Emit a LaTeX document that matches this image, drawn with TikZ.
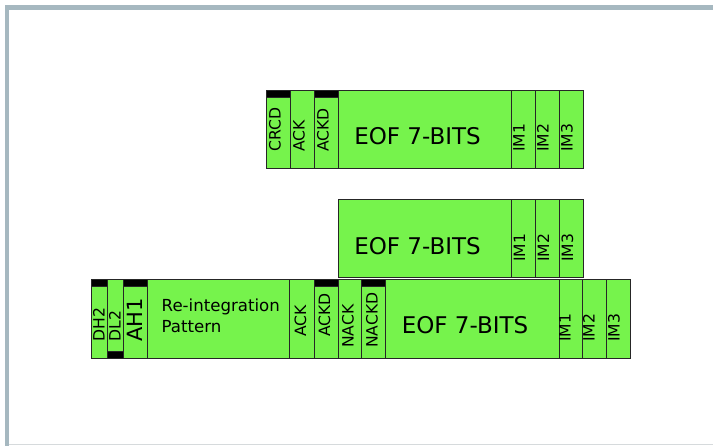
\documentclass[tikz,border=0pt]{standalone}
\usepackage{fontspec}
\setmainfont{DejaVu Sans}
\definecolor{fgreen}{RGB}{118,243,76}
\definecolor{framec}{RGB}{166,184,192}
\definecolor{framel}{RGB}{214,218,220}
\tikzset{
  cell/.style={draw=black!85, line width=0.8pt, fill=fgreen, inner sep=0pt, anchor=north west},
  blackbar/.style={draw=black!85, fill=black, line width=0.8pt, inner sep=0pt, anchor=north west, minimum height=7pt},
  vlab/.style={rotate=90, anchor=west, inner sep=0pt, font=\fontsize{15.6}{15.6}\selectfont, text height=11.3pt, text depth=0pt},
  biglab/.style={vlab, font=\fontsize{21}{21}\selectfont, text height=15.2pt},
  eoftxt/.style={anchor=base, inner sep=0pt, font=\fontsize{23}{23}\selectfont},
  ritxt/.style={anchor=base west, inner sep=0pt, font=\fontsize{16.6}{16.6}\selectfont}
}
\begin{document}
\begin{tikzpicture}[x=1pt,y=-1pt]
\useasboundingbox (0,0) rectangle (713,446);
% frame
\fill[framec] (5,5) rectangle (713,10);
\fill[framec] (5,5) rectangle (9,446);
\draw[framel, line width=1pt] (9,445) -- (713,445);

% ---------- top row ----------
\node[cell, minimum width=24pt, minimum height=78pt] (t1) at (266,90) {};
\node[cell, minimum width=24pt, minimum height=78pt] (t2) at (290,90) {};
\node[cell, minimum width=24pt, minimum height=78pt] (t3) at (314,90) {};
\node[cell, minimum width=173pt, minimum height=78pt] (t4) at (338,90) {};
\node[cell, minimum width=24pt, minimum height=78pt] (t5) at (511,90) {};
\node[cell, minimum width=24pt, minimum height=78pt] (t6) at (535,90) {};
\node[cell, minimum width=24pt, minimum height=78pt] (t7) at (559,90) {};
\node[blackbar, minimum width=24pt] (t1b) at (266,90) {};
\node[blackbar, minimum width=24pt] (t3b) at (314,90) {};
\node[vlab] (t1l) at (275,152) {CRCD};
\node[vlab] (t2l) at (299,152) {ACK};
\node[vlab] (t3l) at (323,152) {ACKD};
\node[eoftxt] (t4l) at (417.5,145) {EOF 7-BITS};
\node[vlab] (t5l) at (519,152) {IM1};
\node[vlab] (t6l) at (543,152) {IM2};
\node[vlab] (t7l) at (567,152) {IM3};

% ---------- middle row ----------
\node[cell, minimum width=173pt, minimum height=78pt] (m4) at (338,199) {};
\node[cell, minimum width=24pt, minimum height=78pt] (m5) at (511,199) {};
\node[cell, minimum width=24pt, minimum height=78pt] (m6) at (535,199) {};
\node[cell, minimum width=24pt, minimum height=78pt] (m7) at (559,199) {};
\node[eoftxt] (m4l) at (417.5,255) {EOF 7-BITS};
\node[vlab] (m5l) at (519.5,262) {IM1};
\node[vlab] (m6l) at (543.5,262) {IM2};
\node[vlab] (m7l) at (567.5,262) {IM3};

% ---------- bottom row ----------
\node[cell, minimum width=16pt, minimum height=79pt] (b1) at (91,279) {};
\node[cell, minimum width=16pt, minimum height=79pt] (b2) at (107,279) {};
\node[cell, minimum width=24pt, minimum height=79pt] (b3) at (123,279) {};
\node[cell, minimum width=142pt, minimum height=79pt] (b4) at (147,279) {};
\node[cell, minimum width=25pt, minimum height=79pt] (b5) at (289,279) {};
\node[cell, minimum width=24pt, minimum height=79pt] (b6) at (314,279) {};
\node[cell, minimum width=23pt, minimum height=79pt] (b7) at (338,279) {};
\node[cell, minimum width=24pt, minimum height=79pt] (b8) at (361,279) {};
\node[cell, minimum width=174pt, minimum height=79pt] (b9) at (385,279) {};
\node[cell, minimum width=23pt, minimum height=79pt] (b10) at (559,279) {};
\node[cell, minimum width=24pt, minimum height=79pt] (b11) at (582,279) {};
\node[cell, minimum width=24pt, minimum height=79pt] (b12) at (606,279) {};
\node[blackbar, minimum width=16pt] (b1b) at (91,279) {};
\node[blackbar, minimum width=16pt] (b2b) at (107,351) {};
\node[blackbar, minimum width=24pt] (b3b) at (123,279) {};
\node[blackbar, minimum width=24pt] (b6b) at (314,279) {};
\node[blackbar, minimum width=24pt] (b8b) at (361,279) {};
\node[vlab] (b1l) at (99,341.5) {DH2};
\node[vlab] (b2l) at (115,341.5) {DL2};
\node[biglab] (b3l) at (134.5,342) {AH1};
\node[ritxt] (b4l1) at (161.5,311.5) {Re-integration};
\node[ritxt] (b4l2) at (161.5,332.5) {Pattern};
\node[vlab] (b5l) at (300.5,337) {ACK};
\node[vlab] (b6l) at (324.5,337) {ACKD};
\node[vlab] (b7l) at (348,348) {NACK};
\node[vlab] (b8l) at (372,348) {NACKD};
\node[eoftxt] (b9l) at (465,334) {EOF 7-BITS};
\node[vlab] (b10l) at (565,342) {IM1};
\node[vlab] (b11l) at (589,342) {IM2};
\node[vlab] (b12l) at (614,342) {IM3};
\end{tikzpicture}
\end{document}
